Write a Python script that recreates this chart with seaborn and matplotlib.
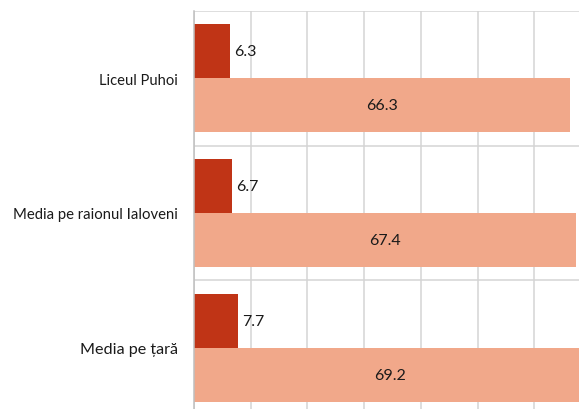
import numpy as np
import pandas as pd
import matplotlib
matplotlib.use("Agg")
import matplotlib.pyplot as plt
import seaborn as sns

# ── Data ─────────────────────────────────────────────────────────────
categories = ["Liceul Puhoi", "Media pe raionul Ialoveni", "Media pe țară"]
series_names = ["Serie 1", "Serie 2"]
values_small = [6.3, 6.7, 7.7]
values_large = [66.3, 67.4, 69.2]

C_DARK = "#C03416"
C_LIGHT = "#F1A88A"
GRID = "#D4D4D4"

df = pd.DataFrame({
    "cat": categories * 2,
    "serie": [series_names[0]] * 3 + [series_names[1]] * 3,
    "val": values_small + values_large,
})

# ── Style ────────────────────────────────────────────────────────────
sns.set_theme(style="white")
plt.rcParams["font.family"] = ["Lato", "DejaVu Sans"]

fig = plt.figure(figsize=(5.79, 4.10), dpi=100)
# axes run slightly past the figure edges, as in the cropped reference
ax = fig.add_axes([194 / 579, -6 / 410, 397 / 579, 404 / 410])

sns.barplot(data=df, x="val", y="cat", hue="serie", order=categories,
            hue_order=series_names, palette=[C_DARK, C_LIGHT], saturation=1,
            orient="h", width=0.8, linewidth=0, legend=False, ax=ax)

ax.set_xlim(0, 70)
ax.set_ylim(2.5, -0.5)
ax.set_xticks(np.arange(0, 71, 10))
ax.set_yticks(np.arange(len(categories) + 1) - 0.5, minor=True)
ax.grid(axis="x", which="major", color=GRID, linewidth=1.1)
ax.grid(axis="y", which="minor", color=GRID, linewidth=1.1)
ax.set_axisbelow(True)
ax.tick_params(axis="x", labelbottom=False, length=0)
ax.tick_params(axis="y", which="both", length=0, pad=11.5)
ax.set_xlabel("")
ax.set_ylabel("")
for s in ["top", "right", "bottom"]:
    ax.spines[s].set_visible(False)
ax.spines["left"].set_color("#BFBFBF")
ax.spines["left"].set_linewidth(1.1)

for lbl, fs in zip(ax.get_yticklabels(), [10.6, 10.7, 11.6]):
    lbl.set_fontsize(fs)
    lbl.set_color("#1a1a1a")

ax.bar_label(ax.containers[0], fmt="%.1f", padding=3, fontsize=11.5, color="#1a1a1a")
ax.bar_label(ax.containers[1], fmt="%.1f", label_type="center", fontsize=11.5, color="#1a1a1a")

fig.savefig("out.png", dpi=100)
plt.close(fig)
